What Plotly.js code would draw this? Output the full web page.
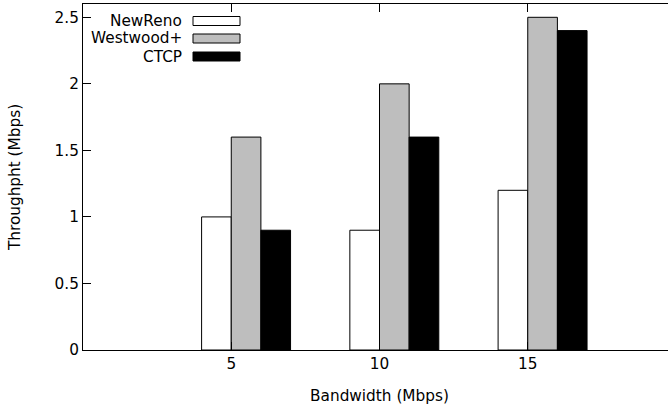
<!DOCTYPE html>
<html>
<head>
<meta charset="utf-8">
<script src="https://cdn.plot.ly/plotly-3.0.1.min.js"></script>
<style>
html,body{margin:0;padding:0;overflow:hidden;background:#fff;}
#chart{width:690px;height:408px;}
</style>
</head>
<body>
<div id="chart"></div>
<script>
// Data
const bandwidths = [5, 10, 15];
const seriesNames = ["NewReno", "Westwood+", "CTCP"];
const newReno = [1.0, 0.9, 1.2];
const westwood = [1.6, 2.0, 2.5];
const ctcp = [0.9, 1.6, 2.4];
const xTickVals = [5, 10, 15];
const yTickVals = [0, 0.5, 1, 1.5, 2, 2.5];
const yTickText = ["0", "0.5", "1", "1.5", "2", "2.5"];

const fills = ["#ffffff", "#bebebe", "#000000"];
const offsets = [-1, 0, 1];
const values = [newReno, westwood, ctcp];
const FS = 15.3;

const traces = values.map((v, i) => ({
  type: "bar",
  name: seriesNames[i],
  x: bandwidths,
  y: v,
  width: 1,
  offset: offsets[i],
  marker: {color: fills[i], line: {color: "#000", width: 1}},
  showlegend: false,
  hoverinfo: "x+y+name"
}));

// Plot area geometry in px (for legend placement)
const L = 83, R = 676, T = 4, B = 350;
const px = x => (x - L) / (R - L);
const py = y => (B - y) / (B - T);

const shapes = [];
const annotations = [];
const rowY = [21, 38.5, 56.5];
seriesNames.forEach((n, i) => {
  shapes.push({
    type: "rect", xref: "paper", yref: "paper",
    x0: px(193), x1: px(240), y0: py(rowY[i] + 4.5), y1: py(rowY[i] - 4.5),
    fillcolor: fills[i], line: {color: "#000", width: 1}
  });
  annotations.push({
    xref: "paper", yref: "paper", x: px(184), y: py(rowY[i]),
    xanchor: "right", yanchor: "middle", text: n, showarrow: false,
    font: {family: "DejaVu Sans", size: FS, color: "#000"}
  });
});

const layout = {
  width: 690, height: 408,
  margin: {l: L, r: 690 - R, t: T, b: 408 - B},
  paper_bgcolor: "#fff", plot_bgcolor: "#fff",
  font: {family: "DejaVu Sans", size: FS, color: "#000"},
  barmode: "overlay",
  xaxis: {
    range: [0, 20],
    tickvals: xTickVals,
    ticktext: xTickVals.map(String),
    ticks: "inside", ticklen: 8, tickcolor: "#000",
    tickfont: {size: FS},
    showline: true, linecolor: "#000", linewidth: 1, mirror: "ticks",
    showgrid: false, zeroline: false,
    title: {text: "Bandwidth (Mbps)", standoff: 17, font: {size: FS}}
  },
  yaxis: {
    range: [0, 2.6],
    tickvals: yTickVals, ticktext: yTickText,
    ticks: "inside", ticklen: 8, tickcolor: "#000",
    tickfont: {size: FS},
    showline: true, linecolor: "#000", linewidth: 1, mirror: false,
    showgrid: false, zeroline: false,
    title: {text: "Throughpht (Mbps)", standoff: 30, font: {size: FS}}
  },
  shapes: shapes,
  annotations: annotations
};

Plotly.newPlot("chart", traces, layout, {displayModeBar: false, staticPlot: true});
</script>
</body>
</html>
